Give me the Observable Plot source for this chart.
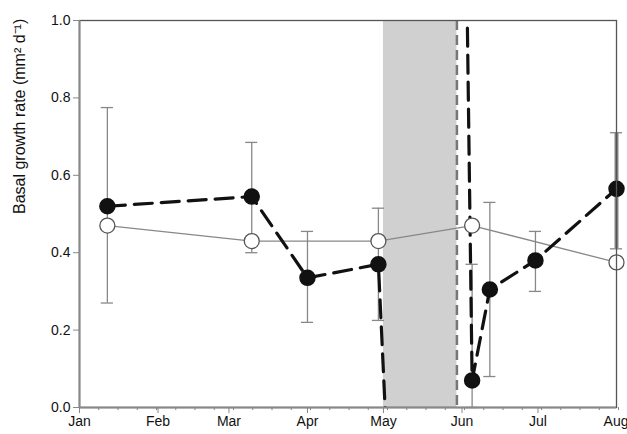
<!DOCTYPE html><html><head><meta charset="utf-8">
<script src="https://cdn.jsdelivr.net/npm/d3@7"></script>
<script src="https://cdn.jsdelivr.net/npm/@observablehq/plot@0.6"></script>
<style>body{margin:0;background:#fff}</style></head><body><div id="c"></div>
<script>
const monthLabels=["Jan","Feb","Mar","Apr","May","Jun","Jul","Aug"];
const monthDays=[0,31,59,90,120,151,181,212];
// day-of-year positions
const openDays=[11,68,118,155,212];
const openVals=[0.47,0.43,0.43,0.47,0.375];
const filledDays1=[11,68,90,118,121];
const filledVals1=[0.52,0.545,0.335,0.37,-0.05];
const filledDays2=[153,155,162,180,212];
const filledVals2=[1.05,0.07,0.305,0.38,0.565];
const errDays=[11,68,90,118,155,162,180];
const errLow=[0.27,0.40,0.22,0.225,0.0,0.08,0.30];
const errHigh=[0.775,0.685,0.455,0.515,0.37,0.53,0.455];
const thickErr={day:212,low:0.41,high:0.71};
const band={start:120,end:149};
const minorTicks=d3.range(0,213,7.6);

const open=openDays.map((d,i)=>({d,v:openVals[i]}));
const f1=filledDays1.map((d,i)=>({d,v:filledVals1[i]}));
const f2=filledDays2.map((d,i)=>({d,v:filledVals2[i]}));
const err=errDays.map((d,i)=>({d,lo:errLow[i],hi:errHigh[i]}));
const caps=err.flatMap(e=>[{d:e.d,y:e.lo},{d:e.d,y:e.hi}]).concat([{d:212,y:thickErr.low},{d:212,y:thickErr.high}]);
const filledPts=f1.slice(0,4).concat(f2.slice(1));
const cw=2.4;
const fmt=d=>monthLabels[monthDays.indexOf(d)];

const chart=Plot.plot({
  width:627,height:434,marginLeft:79,marginRight:11,marginTop:20,marginBottom:27,
  style:{fontFamily:"Liberation Sans, Arial, sans-serif",fontSize:"14px",color:"#111"},
  x:{type:"linear",domain:[0,212]},
  y:{type:"linear",domain:[0,1]},
  marks:[
    Plot.rect([band],{x1:"start",x2:"end",y1:()=>0,y2:()=>1,fill:"#d0d0d0"}),
    Plot.ruleX([band.end],{stroke:"#777",strokeWidth:2.5,strokeDasharray:"10,5"}),
    Plot.ruleX(err,{x:"d",y1:"lo",y2:"hi",stroke:"#888",strokeWidth:1.3}),
    Plot.ruleX([thickErr],{x:"day",y1:"low",y2:"high",stroke:"#888",strokeWidth:4}),
    Plot.ruleY(caps,{y:"y",x1:d=>d.d-cw,x2:d=>d.d+cw,stroke:"#888",strokeWidth:1.3}),
    Plot.line(open,{x:"d",y:"v",stroke:"#888",strokeWidth:1.3}),
    Plot.line(f1,{x:"d",y:"v",stroke:"#111",strokeWidth:3.2,strokeDasharray:"18,9",clip:true}),
    Plot.line(f2,{x:"d",y:"v",stroke:"#111",strokeWidth:3.2,strokeDasharray:"18,9",clip:true}),
    Plot.dot(open,{x:"d",y:"v",r:7.5,fill:"white",stroke:"#555",strokeWidth:1.3}),
    Plot.dot(filledPts,{x:"d",y:"v",r:7.5,fill:"#111",stroke:"#111"}),
    Plot.ruleX(minorTicks,{x:d=>d,y1:()=>0,y2:()=>-0.008,stroke:"#888"}),
    Plot.axisX({ticks:monthDays.slice(0,7),tickFormat:fmt,tickSize:6,stroke:"#888",label:null}),
    Plot.axisX({ticks:[212],tickFormat:fmt,tickSize:6,stroke:"#888",label:null,textAnchor:"end",dx:12}),
    Plot.axisY({ticks:[0,0.2,0.4,0.6,0.8,1],tickFormat:d3.format(".1f"),tickSize:6,stroke:"#888",label:null}),
    Plot.frame({stroke:"#555",strokeWidth:1.3}),
    Plot.ruleX([0],{stroke:"#888",strokeWidth:2}),
    Plot.ruleY([0],{stroke:"#888",strokeWidth:2}),
    Plot.text(["Basal growth rate (mm² d⁻¹)"],{frameAnchor:"left",dx:-60,rotate:-90,fontSize:16})
  ]
});
document.getElementById("c").appendChild(chart);
</script></body></html>
